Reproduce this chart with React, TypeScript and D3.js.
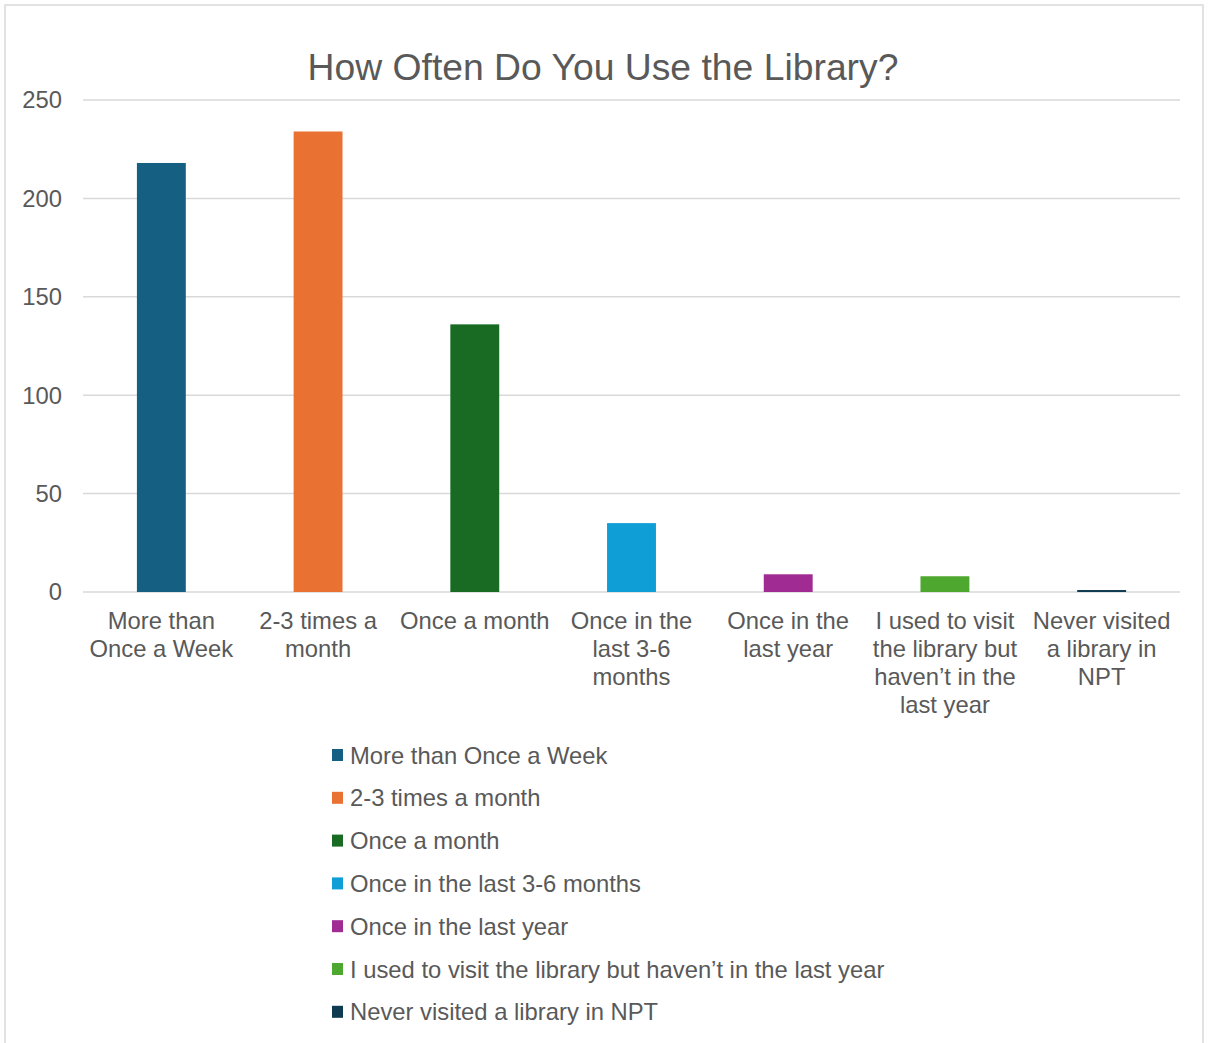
import React from "react";
import * as d3 from "d3";

const categories = [
  "More than Once a Week",
  "2-3 times a month",
  "Once a month",
  "Once in the last 3-6 months",
  "Once in the last year",
  "I used to visit the library but haven\u2019t in the last year",
  "Never visited a library in NPT",
];
const axisLabels = [
  ["More than", "Once a Week"],
  ["2-3 times a", "month"],
  ["Once a month"],
  ["Once in the", "last 3-6", "months"],
  ["Once in the", "last year"],
  ["I used to visit", "the library but", "haven\u2019t in the", "last year"],
  ["Never visited", "a library in", "NPT"],
];
const values = [218, 234, 136, 35, 9, 8, 1];
const colors = ["#156082", "#E97132", "#196B24", "#0F9ED5", "#A02B93", "#4EA72E", "#0E3A52"];
const yTicks = [0, 50, 100, 150, 200, 250];
const title = "How Often Do You Use the Library?";

const W = 1208;
const H = 1043;
const FONT = "'Liberation Sans', Arial, sans-serif";
const TXT = "#595959";
const FS = 23.8;

export default function App() {
  const left = 83, right = 1180, top = 100, bottom = 592;
  const x = d3.scaleBand<string>().domain(categories).range([left, right]).paddingInner(0.688).paddingOuter(0.344);
  const y = d3.scaleLinear().domain([0, 250]).range([bottom, top]);
  return (
    <svg width={W} height={H} style={{ position: "absolute", left: 0, top: 0 }} fontFamily={FONT}>
      <rect x={5} y={5} width={1198} height={H + 10} fill="#fff" stroke="#d9d9d9" strokeWidth={1.5} />
      <text x={603} y={80} textAnchor="middle" fontSize={37.3} fill={TXT}>{title}</text>
      {yTicks.map((t) => (
        <g key={t}>
          <line x1={left} x2={right} y1={y(t)} y2={y(t)} stroke="#d9d9d9" strokeWidth={1.5} />
          <text x={62} y={y(t)} dy="0.35em" textAnchor="end" fontSize={FS} fill={TXT}>{t}</text>
        </g>
      ))}
      {categories.map((c, i) => (
        <rect key={c} x={x(c)} y={y(values[i])} width={x.bandwidth()} height={y(0) - y(values[i])} fill={colors[i]} />
      ))}
      {categories.map((c, i) => (
        <text key={c} x={(x(c) as number) + x.bandwidth() / 2} y={629} textAnchor="middle" fontSize={FS} fill={TXT}>
          {axisLabels[i].map((l, j) => (
            <tspan key={j} x={(x(c) as number) + x.bandwidth() / 2} dy={j === 0 ? 0 : 28}>{l}</tspan>
          ))}
        </text>
      ))}
      {categories.map((c, i) => (
        <g key={c} transform={`translate(332, ${749 + i * 42.8})`}>
          <rect x={0} y={0} width={11} height={12} fill={colors[i]} />
          <text x={18} y={14.5} fontSize={FS} fill={TXT}>{c}</text>
        </g>
      ))}
    </svg>
  );
}
